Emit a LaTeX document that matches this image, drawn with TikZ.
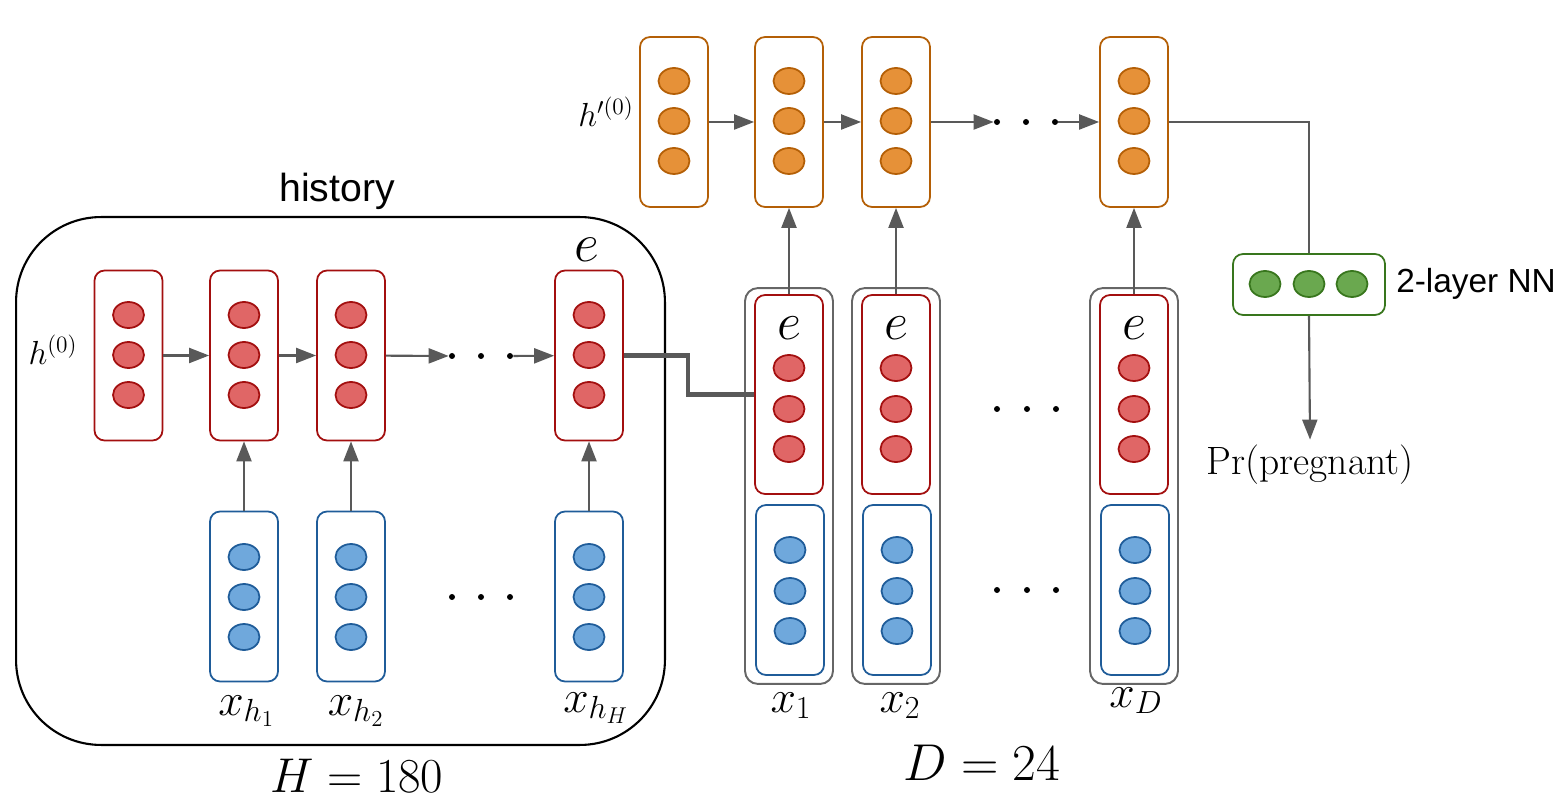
\RequirePackage{fix-cm}
\documentclass[tikz,border=0pt]{standalone}
\usepackage{fontspec}
\newfontfamily\arialf{Liberation Sans}
\usetikzlibrary{arrows.meta,shapes.geometric}
\definecolor{redfill}{HTML}{E06666}
\definecolor{redline}{HTML}{A30F0F}
\definecolor{orfill}{HTML}{E69138}
\definecolor{orline}{HTML}{B45F06}
\definecolor{blfill}{HTML}{6FA8DC}
\definecolor{blline}{HTML}{1F5C99}
\definecolor{grfill}{HTML}{6AA84F}
\definecolor{grline}{HTML}{38761D}
\definecolor{arrcol}{HTML}{595959}
\definecolor{outg}{HTML}{666666}
\tikzset{
  box/.style={draw, line width=1pt, rounded corners=0.2cm, minimum width=1.36cm, minimum height=3.4cm, inner sep=0pt, fill=white},
  redbox/.style={box, draw=redline},
  blubox/.style={box, draw=blline},
  orbox/.style={box, draw=orline},
  tallred/.style={redbox, minimum height=3.98cm},
  grpbox/.style={draw=outg, line width=1.1pt, rounded corners=0.26cm, minimum width=1.76cm, minimum height=7.92cm, inner sep=0pt},
  neu/.style={ellipse, minimum width=0.62cm, minimum height=0.52cm, inner sep=0pt, line width=1pt},
  rneu/.style={neu, draw=redline, fill=redfill},
  bneu/.style={neu, draw=blline, fill=blfill},
  oneu/.style={neu, draw=orline, fill=orfill},
  gneu/.style={neu, draw=grline, fill=grfill},
  link/.style={draw=arrcol, line width=1.2pt},
  arrowto/.style={link, -{Triangle[length=0.4cm,width=0.3cm]}},
  dot/.style={circle, fill=black, minimum size=0.12cm, inner sep=0pt},
  lbl/.style={inner sep=0pt, anchor=base},
}
\begin{document}
\begin{tikzpicture}[x={(0.02cm,0)},y={(0,-0.02cm)}]
\useasboundingbox (0,0) rectangle (1564,810);

% history frame
\node[draw=black, line width=1.2pt, rounded corners=1.7cm, minimum width=12.98cm, minimum height=10.56cm, inner sep=0pt] (hist) at (340.5,481) {};
\node[lbl, font=\arialf\fontsize{22.3}{26}\selectfont] (histlbl) at (337,202) {history};

% history recurrent (red) boxes
\foreach \n/\x in {h0/128.5, h1/244, h2/351, hH/589} {
  \node[redbox] (\n) at (\x,355.5) {};
  \foreach \k/\y in {a/315, b/355, c/395}
    \node[rneu] (\n\k) at (\x,\y) {};
}
% history input (blue) boxes
\foreach \n/\x in {xh1/244, xh2/351, xhH/589} {
  \node[blubox] (\n) at (\x,596.5) {};
  \foreach \k/\y in {a/557, b/597, c/637}
    \node[bneu] (\n\k) at (\x,\y) {};
}
% dots in history
\node[dot] (hd1) at (452,356) {};
\node[dot] (hd2) at (481,356) {};
\node[dot] (hd3) at (510,356) {};
\node[dot] (xd1) at (452,597) {};
\node[dot] (xd2) at (481,597) {};
\node[dot] (xd3) at (510,597) {};

\draw[arrowto] (h0) -- (h1);
\draw[arrowto] (h1) -- (h2);
\draw[arrowto] (h2) -- (hd1);
\draw[arrowto] (hd3) -- (hH);
\draw[arrowto] (xh1) -- (h1);
\draw[arrowto] (xh2) -- (h2);
\draw[arrowto] (xhH) -- (hH);

% history labels
\node[lbl, font=\fontsize{19}{22}\selectfont] (h0lbl) at (53,365) {$h^{(0)}$};
\node[lbl, font=\fontsize{31}{36}\selectfont] (ehist) at (587,262) {$e$};
\node[lbl, font=\fontsize{26}{30}\selectfont] (lxh1) at (246.5,715) {$x_{h_1}$};
\node[lbl, font=\fontsize{26}{30}\selectfont] (lxh2) at (356,715) {$x_{h_2}$};
\node[lbl, font=\fontsize{26}{30}\selectfont] (lxhH) at (596,712) {$x_{h_H}$};
\node[lbl, font=\fontsize{27.8}{32}\selectfont] (Hlbl) at (357,792) {$H = 180$};

% daily columns
\foreach \n/\x in {1/789, 2/896, D/1134} {
  \node[grpbox] (g\n) at (\x,486) {};
  \node[tallred] (r\n) at (\x,394.5) {};
  \foreach \k/\y in {a/368, b/409, c/449}
    \node[rneu] (r\n\k) at (\x,\y) {};
  \node[blubox] (b\n) at (\x+1,590) {};
  \foreach \k/\y in {a/550, b/591, c/631}
    \node[bneu] (b\n\k) at (\x+1,\y) {};
  \node[lbl, font=\fontsize{30}{34}\selectfont] (e\n) at (\x,340) {$e$};
}
\node[dot] (md1) at (997,409) {};
\node[dot] (md2) at (1027,409) {};
\node[dot] (md3) at (1056,409) {};
\node[dot] (bd1) at (997,590) {};
\node[dot] (bd2) at (1027,590) {};
\node[dot] (bd3) at (1056,590) {};

\node[lbl, font=\fontsize{26}{30}\selectfont] (lx1) at (791,712) {$x_1$};
\node[lbl, font=\fontsize{26}{30}\selectfont] (lx2) at (900,712) {$x_2$};
\node[lbl, font=\fontsize{26}{30}\selectfont] (lxD) at (1136,707) {$x_D$};
\node[lbl, font=\fontsize{29.5}{34}\selectfont] (Dlbl) at (982,780) {$D = 24$};

% history embedding into first column
\draw[draw=arrcol, line width=2.3pt] (hH.east) -- (688,355.5) |- (r1.west);

% top (orange) recurrent boxes
\foreach \n/\x in {o0/674, o1/789, o2/896, oD/1134} {
  \node[orbox] (\n) at (\x,122) {};
  \foreach \k/\y in {a/81, b/121, c/161}
    \node[oneu] (\n\k) at (\x,\y) {};
}
\node[dot] (od1) at (997,122) {};
\node[dot] (od2) at (1026,122) {};
\node[dot] (od3) at (1055,122) {};
\draw[arrowto] (o0) -- (o1);
\draw[arrowto] (o1) -- (o2);
\draw[arrowto] (o2) -- (od1);
\draw[arrowto] (od3) -- (oD);
\draw[arrowto] (r1) -- (o1);
\draw[arrowto] (r2) -- (o2);
\draw[arrowto] (rD) -- (oD);
\node[lbl, font=\fontsize{19}{22}\selectfont] (hplbl) at (606,127) {$h'^{(0)}$};

% classifier
\node[draw=grline, line width=1pt, rounded corners=0.2cm, minimum width=3.04cm, minimum height=1.22cm, inner sep=0pt, fill=white] (nn) at (1309,284.5) {};
\foreach \k/\x in {a/1265, b/1309, c/1352}
  \node[gneu] (nn\k) at (\x,284) {};
\node[lbl, font=\arialf\fontsize{19}{22}\selectfont] (nnlbl) at (1476,293) {2-layer NN};
\draw[link] (oD.east) -| (nn.north);
\node[font=\fontsize{22.5}{26}\selectfont, inner sep=3pt] (pr) at (1310,465) {Pr(pregnant)};
\draw[arrowto] (nn.south) -- (pr.north);
\end{tikzpicture}
\end{document}
